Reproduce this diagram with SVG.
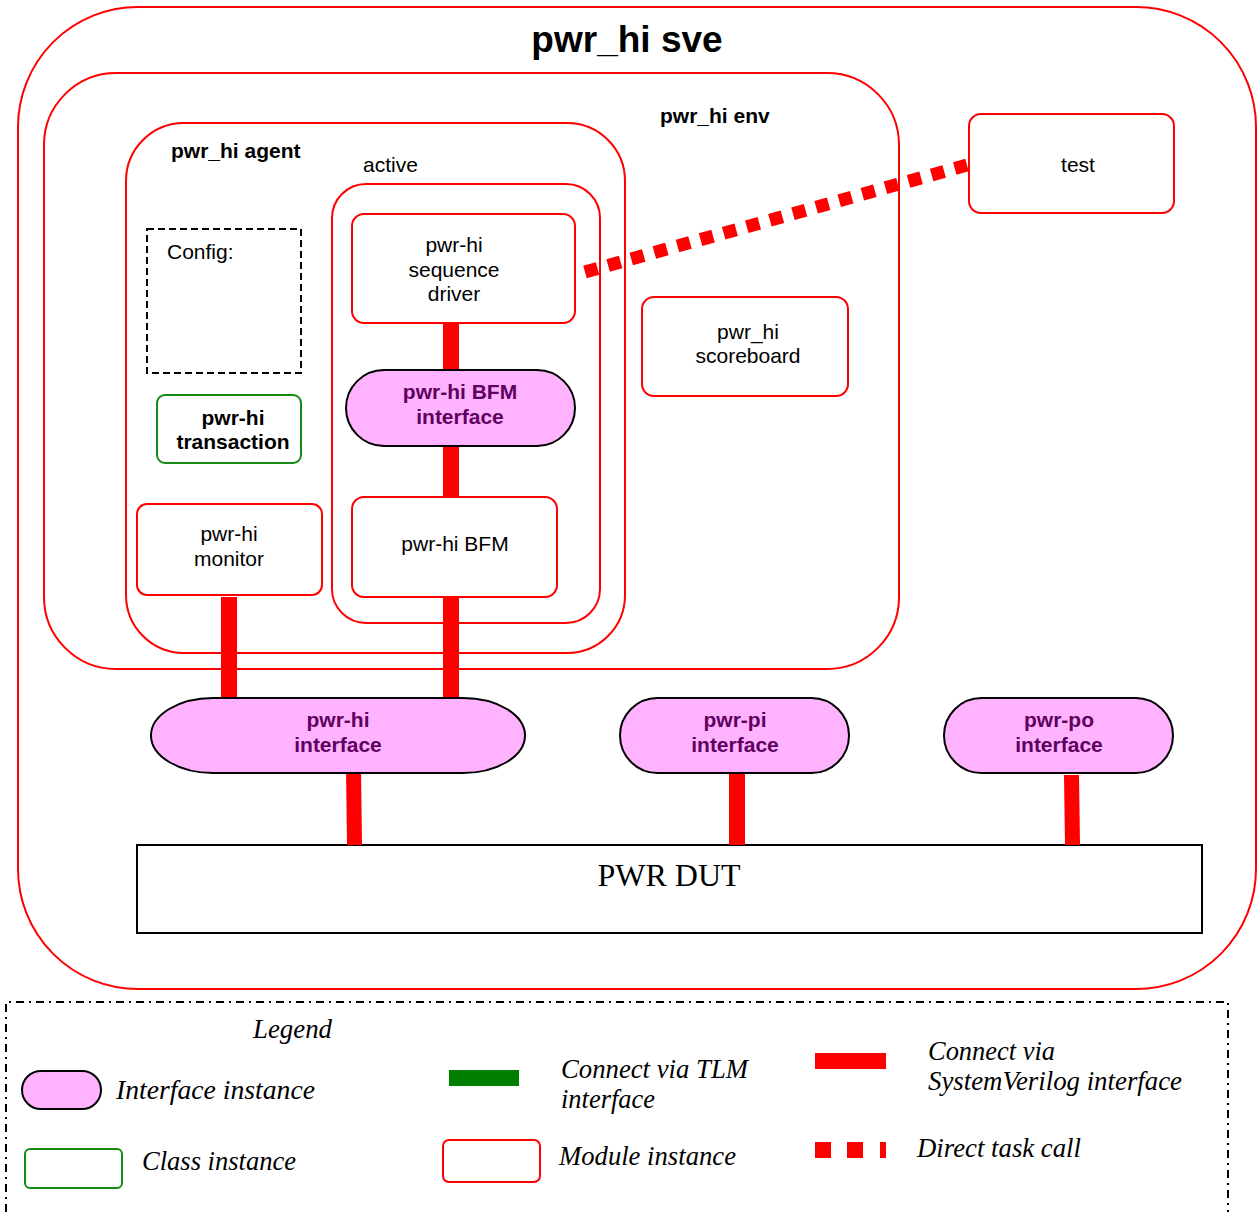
<svg xmlns="http://www.w3.org/2000/svg" width="1257" height="1212" viewBox="0 0 1257 1212">
  <style>
    .mod { fill: #ffffff; stroke: #ff0000; stroke-width: 2; }
    .frame { fill: none; stroke: #ff0000; stroke-width: 2; }
    .ifc { fill: #ffb3ff; stroke: #000000; stroke-width: 2; }
    .cls { fill: #ffffff; stroke: #138a13; stroke-width: 2; }
    .t { font-family: "Liberation Sans", Arial, sans-serif; font-size: 21px; fill: #000000; }
    .tc { text-anchor: middle; }
    .b { font-weight: bold; }
    .it { font-family: "Liberation Sans", Arial, sans-serif; font-size: 21px; font-weight: bold; fill: #600060; text-anchor: middle; }
    .lg { font-family: "Liberation Serif", "Times New Roman", serif; font-style: italic; font-size: 27px; fill: #000000; }
    .sv { fill: #ff0000; }
  </style>

  <!-- containers -->
  <g id="sve">
    <rect class="frame" x="18" y="7" width="1238" height="982" rx="120" ry="120"/>
    <text class="t tc b" x="627" y="52" style="font-size:37px">pwr_hi sve</text>
  </g>
  <g id="env">
    <rect class="frame" x="44" y="73" width="855" height="596" rx="72" ry="72"/>
    <text class="t b" x="660" y="123">pwr_hi env</text>
  </g>
  <g id="agent">
    <rect class="frame" x="126" y="123" width="499" height="530" rx="58" ry="58"/>
    <text class="t b" x="171" y="158">pwr_hi agent</text>
  </g>
  <g id="active">
    <rect class="frame" x="332" y="184" width="268" height="439" rx="34" ry="34"/>
    <text class="t" x="363" y="172">active</text>
  </g>

  <!-- agent contents -->
  <g id="config">
    <rect x="147" y="229" width="154" height="144" fill="#ffffff" stroke="#000000" stroke-width="2" stroke-dasharray="7 4"/>
    <text class="t" x="167" y="259">Config:</text>
  </g>
  <g id="transaction">
    <rect class="cls" x="157" y="395" width="144" height="68" rx="8" ry="8"/>
    <text class="t tc b" x="233" y="425">pwr-hi</text>
    <text class="t tc b" x="233" y="449">transaction</text>
  </g>
  <g id="monitor">
    <rect class="mod" x="137" y="504" width="185" height="91" rx="10" ry="10"/>
    <text class="t tc" x="229" y="541">pwr-hi</text>
    <text class="t tc" x="229" y="566">monitor</text>
  </g>
  <g id="driver">
    <rect class="mod" x="352" y="214" width="223" height="109" rx="12" ry="12"/>
    <text class="t tc" x="454" y="252">pwr-hi</text>
    <text class="t tc" x="454" y="277">sequence</text>
    <text class="t tc" x="454" y="301">driver</text>
  </g>
  <g id="bfm">
    <rect class="mod" x="352" y="497" width="205" height="100" rx="12" ry="12"/>
    <text class="t tc" x="455" y="551">pwr-hi BFM</text>
  </g>

  <!-- env / test level -->
  <g id="scoreboard">
    <rect class="mod" x="642" y="297" width="206" height="99" rx="12" ry="12"/>
    <text class="t tc" x="748" y="339">pwr_hi</text>
    <text class="t tc" x="748" y="363">scoreboard</text>
  </g>
  <g id="test">
    <rect class="mod" x="969" y="114" width="205" height="99" rx="12" ry="12"/>
    <text class="t tc" x="1078" y="172">test</text>
  </g>

  <!-- DUT -->
  <g id="dut">
    <rect x="137" y="845" width="1065" height="88" fill="#ffffff" stroke="#000000" stroke-width="2"/>
    <text x="669" y="886" text-anchor="middle" font-family="Liberation Serif, 'Times New Roman', serif" font-size="32" fill="#000000">PWR DUT</text>
  </g>

  <!-- connectors -->
  <g id="connectors">
    <rect class="sv" x="443" y="323" width="16" height="49"/>
    <rect class="sv" x="443" y="446" width="16" height="51"/>
    <rect class="sv" x="443" y="597" width="16" height="101"/>
    <rect class="sv" x="221" y="597" width="16" height="101"/>
    <polygon class="sv" points="346,767 361,767 362,845 347,845"/>
    <rect class="sv" x="729" y="773" width="16" height="72"/>
    <polygon class="sv" points="1064,775 1079,775 1080,845 1065,845"/>
    <line x1="585" y1="272" x2="967" y2="165" stroke="#ff0000" stroke-width="13" stroke-dasharray="13 11"/>
  </g>

  <!-- interfaces -->
  <g id="bfm-interface">
    <rect class="ifc" x="346" y="370" width="229" height="76" rx="38" ry="38"/>
    <text class="it" x="460" y="399">pwr-hi BFM</text>
    <text class="it" x="460" y="424">interface</text>
  </g>
  <g id="hi-interface">
    <rect class="ifc" x="151" y="698" width="374" height="75" rx="62" ry="37.5"/>
    <text class="it" x="338" y="727">pwr-hi</text>
    <text class="it" x="338" y="752">interface</text>
  </g>
  <g id="pi-interface">
    <rect class="ifc" x="620" y="698" width="229" height="75" rx="37.5" ry="37.5"/>
    <text class="it" x="735" y="727">pwr-pi</text>
    <text class="it" x="735" y="752">interface</text>
  </g>
  <g id="po-interface">
    <rect class="ifc" x="944" y="698" width="229" height="75" rx="37.5" ry="37.5"/>
    <text class="it" x="1059" y="727">pwr-po</text>
    <text class="it" x="1059" y="752">interface</text>
  </g>

  <!-- legend -->
  <g id="legend">
    <path d="M6,1212 V1002 H1228 V1212" fill="none" stroke="#000000" stroke-width="2" stroke-dasharray="8 5 2 5"/>
    <text class="lg" x="253" y="1038" textLength="79" lengthAdjust="spacingAndGlyphs">Legend</text>
    <rect class="ifc" x="22" y="1071" width="79" height="38" rx="19" ry="19"/>
    <text class="lg" x="116" y="1099" textLength="199" lengthAdjust="spacingAndGlyphs">Interface instance</text>
    <rect class="cls" x="25" y="1149" width="97" height="39" rx="5" ry="5"/>
    <text class="lg" x="142" y="1170" textLength="154" lengthAdjust="spacingAndGlyphs">Class instance</text>
    <rect x="449" y="1070" width="70" height="16" fill="#007f00"/>
    <text class="lg" x="561" y="1078" textLength="187" lengthAdjust="spacingAndGlyphs">Connect via TLM</text>
    <text class="lg" x="561" y="1108" textLength="94" lengthAdjust="spacingAndGlyphs">interface</text>
    <rect class="mod" x="443" y="1140" width="97" height="42" rx="6" ry="6"/>
    <text class="lg" x="559" y="1165" textLength="177" lengthAdjust="spacingAndGlyphs">Module instance</text>
    <rect class="sv" x="815" y="1053" width="71" height="16"/>
    <text class="lg" x="928" y="1060" textLength="127" lengthAdjust="spacingAndGlyphs">Connect via</text>
    <text class="lg" x="928" y="1090" textLength="254" lengthAdjust="spacingAndGlyphs">SystemVerilog interface</text>
    <rect class="sv" x="815" y="1142" width="16" height="16"/>
    <rect class="sv" x="847" y="1142" width="16" height="16"/>
    <rect class="sv" x="880" y="1142" width="6" height="16"/>
    <text class="lg" x="917" y="1157" textLength="164" lengthAdjust="spacingAndGlyphs">Direct task call</text>
  </g>
</svg>
